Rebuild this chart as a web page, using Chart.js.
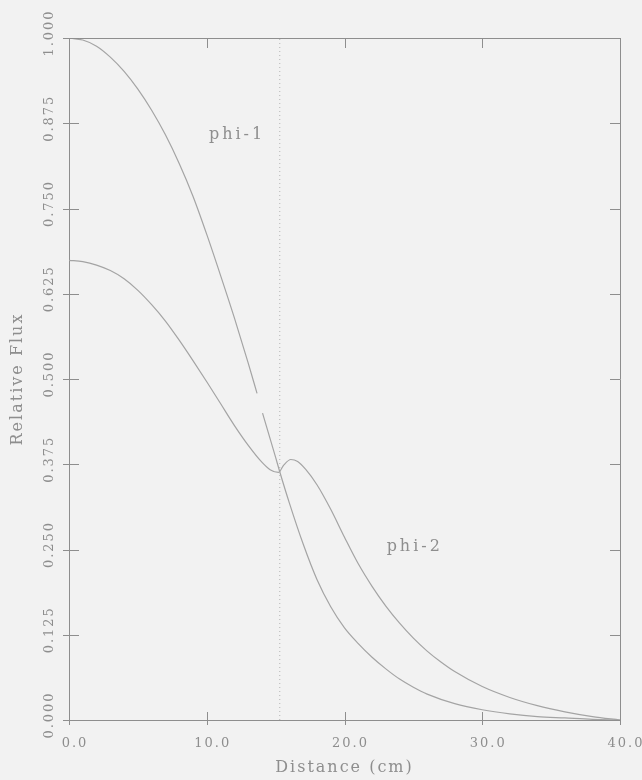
<!DOCTYPE html>
<html>
<head>
<meta charset="utf-8">
<script src="https://cdn.jsdelivr.net/npm/chart.js@4.4.1/dist/chart.umd.min.js"></script>
<style>
  html, body { margin: 0; padding: 0; background: #f2f2f2; }
</style>
</head>
<body>
<canvas id="fluxChart" width="642" height="780"></canvas>
<script>
// phi-1 (fast group) flux, with the short break in the trace near 14 cm
const dist1 = [0, 1, 2, 3, 4, 5, 6, 7, 8, 9, 10, 11, 12, 13, 13.65, null, 14.05, 15, 15.3, 16, 17, 18, 19, 20, 21, 22, 23, 24, 25, 26, 28, 30, 32, 34, 36, 38, 40];
const phi1  = [1.000, 0.997, 0.988, 0.972, 0.951, 0.925, 0.894, 0.858, 0.816, 0.768, 0.712, 0.652, 0.590, 0.524, 0.479, null, 0.450, 0.385, 0.364, 0.318, 0.258, 0.206, 0.166, 0.135, 0.112, 0.092, 0.075, 0.060, 0.048, 0.038, 0.024, 0.015, 0.009, 0.005, 0.003, 0.001, 0.000];

// phi-2 (thermal group) flux
const dist2 = [0, 1, 2, 3, 4, 5, 6, 7, 8, 9, 10, 11, 12, 13, 14, 14.6, 15.2, 15.6, 16.1, 16.6, 17.2, 18, 19, 20, 21, 22, 23, 24, 25, 26, 27, 28, 30, 32, 34, 36, 38, 40];
const phi2  = [0.674, 0.672, 0.667, 0.659, 0.647, 0.630, 0.609, 0.585, 0.557, 0.527, 0.496, 0.464, 0.432, 0.403, 0.378, 0.367, 0.363, 0.374, 0.382, 0.379, 0.367, 0.345, 0.309, 0.268, 0.229, 0.196, 0.167, 0.142, 0.120, 0.101, 0.085, 0.071, 0.049, 0.033, 0.021, 0.012, 0.005, 0.000];

// core / reflector interface
const boundaryX = 15.3;

const xTicks = [0, 10, 20, 30, 40];
const yTicks = [0, 0.125, 0.25, 0.375, 0.5, 0.625, 0.75, 0.875, 1.0];

const curveNames = ['phi-1', 'phi-2'];
const curveNameX = [12.2, 25.1];
const curveNameY = [0.858, 0.254];

const ink = '#8e8e8e';
const lineInk = '#a4a4a4';
const serif = 'DejaVu Serif';

function pts(xs, ys) {
  return xs.map((x, i) => (x === null ? { x: NaN, y: null } : { x: x, y: ys[i] }));
}

// tick marks that cross the frame, plus the curve names
const frameTicks = {
  id: 'frameTicks',
  beforeUpdate(chart) { chart.ctx.letterSpacing = '2px'; },
  beforeDraw(chart) {
    const c = chart.ctx;
    c.save();
    c.fillStyle = '#f2f2f2';
    c.fillRect(0, 0, chart.width, chart.height);
    c.restore();
    c.letterSpacing = '2px';
  },
  afterDatasetsDraw(chart) {
    const { ctx, chartArea: a, scales } = chart;
    ctx.save();
    ctx.strokeStyle = ink;
    ctx.lineWidth = 1;
    ctx.beginPath();
    xTicks.forEach(v => {
      const px = Math.round(scales.x.getPixelForValue(v)) + 0.5;
      ctx.moveTo(px, a.bottom - 8); ctx.lineTo(px, a.bottom + 5);
      if (v > 0 && v < 40) { ctx.moveTo(px, a.top); ctx.lineTo(px, a.top + 10); }
    });
    yTicks.forEach(v => {
      const py = Math.round(scales.y.getPixelForValue(v)) + 0.5;
      ctx.moveTo(a.left - 6, py); ctx.lineTo(a.left + 10, py);
      if (v > 0 && v < 1) { ctx.moveTo(a.right - 10, py); ctx.lineTo(a.right, py); }
    });
    ctx.stroke();

    ctx.fillStyle = ink;
    ctx.letterSpacing = '3px';
    ctx.font = '16px "' + serif + '"';
    ctx.textAlign = 'center';
    ctx.textBaseline = 'middle';
    curveNames.forEach((t, i) => {
      ctx.fillText(t, scales.x.getPixelForValue(curveNameX[i]), scales.y.getPixelForValue(curveNameY[i]));
    });
    ctx.restore();
  }
};

new Chart(document.getElementById('fluxChart'), {
  type: 'line',
  data: {
    datasets: [
      {
        label: 'phi-1',
        data: pts(dist1, phi1),
        borderColor: lineInk,
        borderWidth: 1.2,
        pointRadius: 0,
        cubicInterpolationMode: 'monotone',
        spanGaps: false
      },
      {
        label: 'phi-2',
        data: pts(dist2, phi2),
        borderColor: lineInk,
        borderWidth: 1.2,
        pointRadius: 0,
        cubicInterpolationMode: 'monotone'
      },
      {
        label: 'interface',
        data: [{ x: boundaryX, y: 0 }, { x: boundaryX, y: 1 }],
        borderColor: '#b4b4b4',
        borderWidth: 1,
        borderDash: [1, 3],
        pointRadius: 0
      }
    ]
  },
  plugins: [frameTicks],
  options: {
    responsive: false,
    animation: false,
    layout: { padding: 0 },
    plugins: {
      legend: { display: false },
      tooltip: { enabled: false }
    },
    scales: {
      x: {
        type: 'linear',
        position: 'bottom',
        min: 0,
        max: 40,
        afterFit(s) { s.height = 60; },
        afterBuildTicks(s) { s.ticks = xTicks.map(v => ({ value: v })); },
        grid: { drawOnChartArea: false, drawTicks: true, tickLength: 15, tickColor: 'rgba(0,0,0,0)' },
        border: { color: ink, width: 1 },
        ticks: {
          color: ink,
          padding: 1,
          labelOffset: 6,
          maxRotation: 0,
          font: { family: serif, size: 13 },
          callback: v => v.toFixed(1)
        },
        title: {
          display: true,
          text: 'Distance (cm)',
          color: ink,
          padding: { top: 0, bottom: 3 },
          font: { family: serif, size: 16 }
        }
      },
      x2: {
        type: 'linear',
        position: 'top',
        min: 0,
        max: 40,
        afterFit(s) { s.height = 38; },
        grid: { drawOnChartArea: false, drawTicks: false },
        border: { color: ink, width: 1 },
        ticks: { display: false }
      },
      y: {
        type: 'linear',
        position: 'left',
        min: 0,
        max: 1,
        afterFit(s) { s.width = 69; },
        afterBuildTicks(s) { s.ticks = yTicks.map(v => ({ value: v })); },
        grid: { drawOnChartArea: false, drawTicks: false },
        border: { color: ink, width: 1 },
        ticks: {
          color: ink,
          padding: -4,
          crossAlign: 'center',
          minRotation: 90,
          maxRotation: 90,
          labelOffset: -5,
          font: { family: serif, size: 13 },
          callback: v => v.toFixed(3)
        },
        title: {
          display: true,
          text: 'Relative Flux',
          color: ink,
          padding: { top: 8, bottom: 0 },
          font: { family: serif, size: 16 }
        }
      },
      y2: {
        type: 'linear',
        position: 'right',
        min: 0,
        max: 1,
        afterFit(s) { s.width = 22; },
        grid: { drawOnChartArea: false, drawTicks: false },
        border: { color: ink, width: 1 },
        ticks: { display: false }
      }
    }
  }
});
</script>
</body>
</html>
